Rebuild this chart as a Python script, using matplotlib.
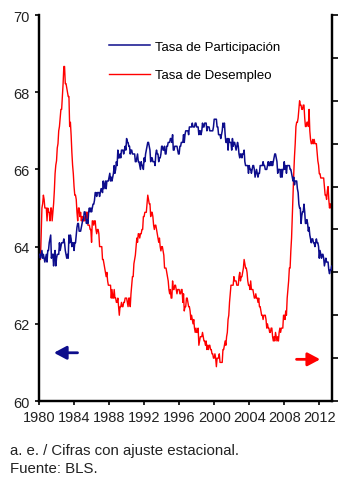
import matplotlib
matplotlib.use("Agg")
import matplotlib.pyplot as plt
import numpy as np

# monthly series, Jan 1980 .. Jul 2013 (seasonally adjusted, BLS)
participacion = [
    63.8, 63.8, 63.7, 63.8, 63.9, 63.7, 63.8, 63.7, 63.6, 63.7, 63.8, 63.6,  # 1980
    63.9, 63.9, 64.1, 64.2, 64.3, 63.7, 63.8, 63.8, 63.5, 63.8, 63.9, 63.5,  # 1981
    63.7, 63.8, 63.8, 63.8, 64.1, 63.9, 64.0, 64.1, 64.1, 64.1, 64.2, 64.1,  # 1982
    63.9, 63.8, 63.7, 63.8, 63.7, 64.3, 64.1, 64.3, 64.2, 64.0, 64.1, 64.1,  # 1983
    63.9, 64.1, 64.1, 64.3, 64.5, 64.6, 64.6, 64.4, 64.4, 64.4, 64.5, 64.6,  # 1984
    64.7, 64.7, 64.9, 64.9, 64.8, 64.6, 64.7, 64.6, 64.9, 65.0, 64.9, 65.0,  # 1985
    64.9, 65.0, 65.1, 65.1, 65.2, 65.4, 65.4, 65.3, 65.4, 65.4, 65.4, 65.3,  # 1986
    65.4, 65.5, 65.5, 65.4, 65.7, 65.5, 65.6, 65.7, 65.5, 65.7, 65.7, 65.7,  # 1987
    65.8, 65.9, 65.7, 65.8, 65.7, 65.8, 65.9, 66.1, 65.9, 66.0, 66.2, 66.1,  # 1988
    66.5, 66.3, 66.3, 66.4, 66.3, 66.5, 66.5, 66.5, 66.4, 66.5, 66.6, 66.5,  # 1989
    66.8, 66.7, 66.7, 66.6, 66.6, 66.4, 66.5, 66.5, 66.4, 66.4, 66.4, 66.4,  # 1990
    66.2, 66.2, 66.3, 66.4, 66.2, 66.2, 66.1, 66.0, 66.2, 66.1, 66.1, 66.0,  # 1991
    66.3, 66.2, 66.4, 66.5, 66.6, 66.7, 66.7, 66.6, 66.5, 66.2, 66.3, 66.3,  # 1992
    66.2, 66.2, 66.2, 66.1, 66.4, 66.5, 66.4, 66.4, 66.2, 66.3, 66.3, 66.4,  # 1993
    66.6, 66.6, 66.5, 66.5, 66.6, 66.4, 66.4, 66.6, 66.6, 66.7, 66.7, 66.7,  # 1994
    66.8, 66.8, 66.7, 66.9, 66.5, 66.5, 66.6, 66.6, 66.6, 66.6, 66.5, 66.4,  # 1995
    66.4, 66.6, 66.6, 66.7, 66.7, 66.7, 66.9, 66.7, 66.9, 67.0, 67.0, 67.0,  # 1996
    67.0, 66.9, 67.1, 67.1, 67.1, 67.1, 67.2, 67.1, 67.1, 67.1, 67.2, 67.2,  # 1997
    67.1, 67.1, 67.1, 66.9, 67.0, 67.0, 66.9, 67.0, 67.2, 67.1, 67.1, 67.2,  # 1998
    67.2, 67.2, 67.0, 67.1, 67.1, 67.1, 67.0, 67.0, 67.0, 67.0, 67.0, 67.1,  # 1999
    67.3, 67.3, 67.3, 67.3, 67.1, 67.1, 66.9, 66.9, 66.9, 66.8, 66.9, 67.0,  # 2000
    67.2, 67.1, 67.2, 66.9, 66.7, 66.7, 66.8, 66.5, 66.8, 66.7, 66.7, 66.7,  # 2001
    66.5, 66.8, 66.6, 66.7, 66.7, 66.6, 66.5, 66.6, 66.7, 66.6, 66.4, 66.3,  # 2002
    66.4, 66.4, 66.3, 66.4, 66.4, 66.5, 66.2, 66.1, 66.1, 66.1, 66.1, 65.9,  # 2003
    66.1, 66.0, 66.0, 65.9, 66.0, 66.1, 66.1, 66.0, 65.8, 65.9, 66.0, 65.9,  # 2004
    65.8, 65.9, 65.9, 66.1, 66.1, 66.1, 66.1, 66.2, 66.1, 66.1, 66.0, 66.0,  # 2005
    66.0, 66.1, 66.2, 66.1, 66.1, 66.2, 66.1, 66.2, 66.1, 66.2, 66.3, 66.4,  # 2006
    66.4, 66.3, 66.2, 65.9, 66.0, 66.0, 66.0, 65.8, 66.0, 65.8, 66.0, 66.0,  # 2007
    66.2, 66.0, 66.1, 65.9, 66.1, 66.1, 66.1, 66.1, 66.0, 66.0, 65.9, 65.8,  # 2008
    65.7, 65.8, 65.6, 65.7, 65.7, 65.7, 65.5, 65.4, 65.1, 65.0, 65.0, 64.6,  # 2009
    64.8, 64.9, 64.9, 65.1, 64.9, 64.6, 64.6, 64.7, 64.6, 64.4, 64.5, 64.3,  # 2010
    64.2, 64.1, 64.2, 64.2, 64.1, 64.1, 64.0, 64.1, 64.2, 64.1, 64.1, 64.0,  # 2011
    63.7, 63.9, 63.8, 63.7, 63.8, 63.8, 63.7, 63.5, 63.6, 63.7, 63.6, 63.6,  # 2012
    63.6, 63.4, 63.3, 63.4, 63.4, 63.5, 63.4,                                # 2013
]
desempleo = [
    6.3, 6.3, 6.3, 6.9, 7.5, 7.6, 7.8, 7.7, 7.5, 7.5, 7.5, 7.2,  # 1980
    7.5, 7.4, 7.4, 7.2, 7.5, 7.5, 7.2, 7.4, 7.6, 7.9, 8.3, 8.5,  # 1981
    8.6, 8.9, 9.0, 9.3, 9.4, 9.6, 9.8, 9.8, 10.1, 10.4, 10.8, 10.8,  # 1982
    10.4, 10.4, 10.3, 10.2, 10.1, 10.1, 9.4, 9.5, 9.2, 8.8, 8.5, 8.3,  # 1983
    8.0, 7.8, 7.8, 7.7, 7.4, 7.2, 7.5, 7.5, 7.3, 7.4, 7.2, 7.3,  # 1984
    7.3, 7.2, 7.2, 7.3, 7.2, 7.4, 7.4, 7.1, 7.1, 7.1, 7.0, 7.0,  # 1985
    6.7, 7.2, 7.2, 7.1, 7.2, 7.2, 7.0, 6.9, 7.0, 7.0, 6.9, 6.6,  # 1986
    6.6, 6.6, 6.6, 6.3, 6.3, 6.2, 6.1, 6.0, 5.9, 6.0, 5.8, 5.7,  # 1987
    5.7, 5.7, 5.7, 5.4, 5.6, 5.4, 5.4, 5.6, 5.4, 5.4, 5.3, 5.3,  # 1988
    5.4, 5.2, 5.0, 5.2, 5.2, 5.3, 5.2, 5.2, 5.3, 5.3, 5.4, 5.4,  # 1989
    5.4, 5.3, 5.2, 5.4, 5.4, 5.2, 5.5, 5.7, 5.9, 5.9, 6.2, 6.3,  # 1990
    6.4, 6.6, 6.8, 6.7, 6.9, 6.9, 6.8, 6.9, 6.9, 7.0, 7.0, 7.3,  # 1991
    7.3, 7.4, 7.4, 7.4, 7.6, 7.8, 7.7, 7.6, 7.6, 7.3, 7.4, 7.4,  # 1992
    7.3, 7.1, 7.0, 7.1, 7.1, 7.0, 6.9, 6.8, 6.7, 6.8, 6.6, 6.5,  # 1993
    6.6, 6.6, 6.5, 6.4, 6.1, 6.1, 6.1, 6.0, 5.9, 5.8, 5.6, 5.5,  # 1994
    5.6, 5.4, 5.4, 5.8, 5.6, 5.6, 5.7, 5.7, 5.6, 5.5, 5.6, 5.6,  # 1995
    5.6, 5.5, 5.5, 5.6, 5.6, 5.3, 5.5, 5.1, 5.2, 5.2, 5.4, 5.4,  # 1996
    5.3, 5.2, 5.2, 5.1, 4.9, 5.0, 4.9, 4.8, 4.9, 4.7, 4.6, 4.7,  # 1997
    4.6, 4.6, 4.7, 4.3, 4.4, 4.5, 4.5, 4.5, 4.6, 4.5, 4.4, 4.4,  # 1998
    4.3, 4.4, 4.2, 4.3, 4.2, 4.3, 4.3, 4.2, 4.2, 4.1, 4.1, 4.0,  # 1999
    4.0, 4.1, 4.0, 3.8, 4.0, 4.0, 4.0, 4.1, 3.9, 3.9, 3.9, 3.9,  # 2000
    4.2, 4.2, 4.3, 4.4, 4.3, 4.5, 4.6, 4.9, 5.0, 5.3, 5.5, 5.7,  # 2001
    5.7, 5.7, 5.7, 5.9, 5.8, 5.8, 5.8, 5.7, 5.7, 5.7, 5.9, 6.0,  # 2002
    5.8, 5.9, 5.9, 6.0, 6.1, 6.3, 6.2, 6.1, 6.1, 6.0, 5.8, 5.7,  # 2003
    5.7, 5.6, 5.8, 5.6, 5.6, 5.6, 5.5, 5.4, 5.4, 5.5, 5.4, 5.4,  # 2004
    5.3, 5.4, 5.2, 5.2, 5.1, 5.0, 5.0, 4.9, 5.0, 5.0, 5.0, 4.9,  # 2005
    4.7, 4.8, 4.7, 4.7, 4.6, 4.6, 4.7, 4.7, 4.5, 4.4, 4.5, 4.4,  # 2006
    4.6, 4.5, 4.4, 4.5, 4.4, 4.6, 4.7, 4.6, 4.7, 4.7, 4.7, 5.0,  # 2007
    5.0, 4.9, 5.1, 5.0, 5.4, 5.6, 5.8, 6.1, 6.1, 6.5, 6.8, 7.3,  # 2008
    7.8, 8.3, 8.7, 9.0, 9.4, 9.5, 9.5, 9.6, 9.8, 10.0, 9.9, 9.9,  # 2009
    9.8, 9.8, 9.9, 9.9, 9.6, 9.4, 9.4, 9.5, 9.5, 9.4, 9.8, 9.3,  # 2010
    9.1, 9.0, 9.0, 9.1, 9.0, 9.1, 9.0, 9.0, 9.0, 8.8, 8.6, 8.5,  # 2011
    8.3, 8.3, 8.2, 8.2, 8.2, 8.2, 8.2, 8.0, 7.8, 7.8, 7.7, 7.9,  # 2012
    8.0, 7.7, 7.5, 7.6, 7.5, 7.5, 7.3,                          # 2013
]
START_YEAR = 1980
year_ticks = list(range(1980, 2013, 4))
left_ticks = [60, 62, 64, 66, 68, 70]

BLUE, RED = "#0d0d8c", "#ff0000"
plt.rcParams["font.family"] = ["Liberation Sans", "DejaVu Sans"]

t_part = START_YEAR + np.arange(len(participacion)) / 12
t_des = START_YEAR + np.arange(len(desempleo)) / 12

fig = plt.figure(figsize=(3.41, 4.81), dpi=100)
ax = fig.add_axes([0.1144, 0.1642, 0.8592, 0.8025])
ax2 = ax.twinx()

ax.plot(t_part, participacion, color=BLUE, lw=1.1, label="Tasa de Participación", zorder=3)
ax2.plot(t_des, desempleo, color=RED, lw=1.0, label="Tasa de Desempleo")

ax.set_xlim(1980, 2013.45)
ax.set_ylim(60, 70)
ax2.set_ylim(3, 12)
ax.set_yticks(left_ticks)
ax.set_xticks(year_ticks)
ax2.set_yticks(range(3, 13))
ax2.set_yticklabels([])
ax.tick_params(labelsize=10.5, length=3, width=1.2, colors="black", labelcolor="#222222")
ax2.tick_params(length=4, width=1.2)

for a in (ax, ax2):
    a.spines["top"].set_visible(False)
    for s in ("left", "right", "bottom"):
        a.spines[s].set_linewidth(1.6)

# keep the blue line above the red one
ax.set_zorder(ax2.get_zorder() + 1)
ax.patch.set_visible(False)

h1, l1 = ax.get_legend_handles_labels()
h2, l2 = ax2.get_legend_handles_labels()
ax.legend(h1 + h2, l1 + l2, loc="upper left", bbox_to_anchor=(0.2, 0.965),
          frameon=False, fontsize=9.5, handlelength=3.1, handletextpad=0.35,
          labelspacing=1.25)

# direction arrows: blue -> left axis, red -> right axis
arrow = dict(arrowstyle="-|>,head_length=0.75,head_width=0.4", lw=2,
             shrinkA=0, shrinkB=0)
ax.annotate("", xy=(1981.7, 61.25), xytext=(1984.4, 61.25),
            arrowprops=dict(arrow, color=BLUE))
ax.annotate("", xy=(2012.1, 61.08), xytext=(2009.4, 61.08),
            arrowprops=dict(arrow, color=RED))

fig.text(0.03, 0.055, "a. e. / Cifras con ajuste estacional.", fontsize=10.8, color="#222222")
fig.text(0.03, 0.016, "Fuente: BLS.", fontsize=10.8, color="#222222")

fig.savefig("out.png", dpi=100)
